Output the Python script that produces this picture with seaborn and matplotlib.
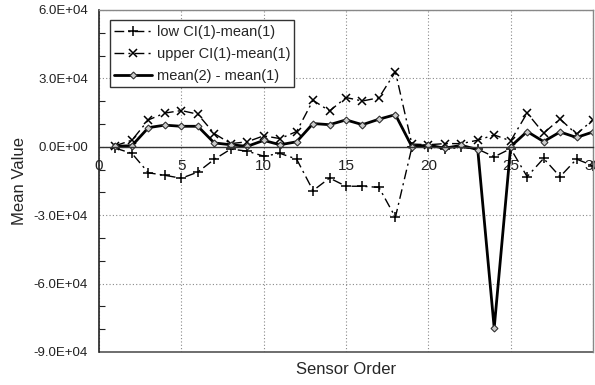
import numpy as np
import pandas as pd
import matplotlib
matplotlib.use("Agg")
import matplotlib.pyplot as plt
import seaborn as sns
from matplotlib.patches import Rectangle
from matplotlib.ticker import MultipleLocator, FuncFormatter

sensor = list(range(1, 31))
low_ci = [-600, -2900, -11400, -12500, -13800, -11100, -5500, -1000, -1900, -4100,
          -2900, -5400, -19200, -13700, -17300, -17300, -17800, -30900, -300, 100,
          -1000, -300, -1000, -4400, -800, -13100, -5100, -13100, -5400, -8300]
upper_ci = [500, 2900, 11800, 14800, 15900, 14300, 5800, 1400, 2200, 4800,
            3600, 6700, 20400, 15700, 21600, 20100, 21500, 32900, 1200, 900,
            1400, 1400, 2900, 5200, 2600, 14800, 6000, 12200, 5500, 11900]
mean_diff = [200, 500, 8400, 9500, 9000, 9000, 1700, 900, 200, 2800,
             900, 2200, 10200, 9700, 11800, 9700, 12100, 14100, 100, 700,
             -600, 600, -1200, -79500, 100, 6700, 2300, 6500, 4100, 6500]
labels = ["low CI(1)-mean(1)", "upper CI(1)-mean(1)", "mean(2) - mean(1)"]
x_ticks = [0, 5, 10, 15, 20, 25, 30]
y_ticks = [-90000, -60000, -30000, 0, 30000, 60000]

df = pd.DataFrame({"Sensor Order": sensor, labels[0]: low_ci,
                   labels[1]: upper_ci, labels[2]: mean_diff})

sns.set_style("white")
plt.rcParams["font.family"] = ["Liberation Sans", "DejaVu Sans"]

fig = plt.figure(figsize=(5.95, 3.85), dpi=100)
ax = fig.add_axes([99 / 595, 1 - 352 / 385, 494 / 595, 342 / 385])

dashdot = (0, (7, 3, 1.5, 3))
sns.lineplot(data=df, x="Sensor Order", y=labels[0], ax=ax, color="black",
             linestyle=dashdot, lw=1.0, marker="+", markersize=7,
             markeredgewidth=1.1, markeredgecolor="black", label=labels[0])
sns.lineplot(data=df, x="Sensor Order", y=labels[1], ax=ax, color="black",
             linestyle=dashdot, lw=1.0, marker="x", markersize=5.5,
             markeredgewidth=1.1, markeredgecolor="black", label=labels[1])
sns.lineplot(data=df, x="Sensor Order", y=labels[2], ax=ax, color="black",
             linestyle="-", lw=2.0, marker="D", markersize=3.5,
             markerfacecolor="#cccccc", markeredgecolor="#333333",
             markeredgewidth=0.8, label=labels[2])

ax.set_xlim(0, 30)
ax.set_ylim(-90000, 60000)
ax.set_xticks(x_ticks)
ax.set_yticks(y_ticks)
ax.yaxis.set_minor_locator(MultipleLocator(10000))
ax.yaxis.set_major_formatter(FuncFormatter(lambda v, p: f"{v:.1E}"))

ax.grid(True, which="major", linestyle=(0, (1, 2)), color="#888888", lw=0.8)

# Spines: x-axis crosses at zero, frame around plot area
for s in ["top", "right"]:
    ax.spines[s].set_color("#888888")
    ax.spines[s].set_linewidth(1.0)
ax.spines["left"].set_color("#222222")
ax.spines["left"].set_linewidth(1.2)
ax.spines["bottom"].set_position(("data", 0))
ax.spines["bottom"].set_color("#333333")
ax.spines["bottom"].set_linewidth(1.0)
ax.add_patch(Rectangle((0, 0), 1, 0.0, transform=ax.transAxes, fill=False,
                       ec="#555555", lw=1.2, clip_on=False))

ax.tick_params(axis="y", which="major", direction="in", length=4, width=0.8,
               labelsize=9.5, pad=8, colors="#222222")
ax.tick_params(axis="y", which="minor", direction="in", length=4, width=0.8,
               colors="#222222", left=True)
ax.tick_params(axis="x", which="major", direction="in", length=3, width=0.8,
               labelsize=11, pad=9, colors="#222222")

ax.set_xlabel("Sensor Order", fontsize=12, labelpad=0)
ax.xaxis.set_label_coords(0.5, -0.03)
ax.set_ylabel("Mean Value", fontsize=12, labelpad=5)

leg = ax.legend(loc="upper left", bbox_to_anchor=(0.022, 0.97), fontsize=10.5,
                frameon=True, fancybox=False, edgecolor="#333333",
                framealpha=1, handlelength=2.6, handletextpad=0.3,
                borderpad=0.3, labelspacing=0.55, borderaxespad=0)
leg.get_frame().set_linewidth(1.0)

fig.savefig("out.png", dpi=100)
